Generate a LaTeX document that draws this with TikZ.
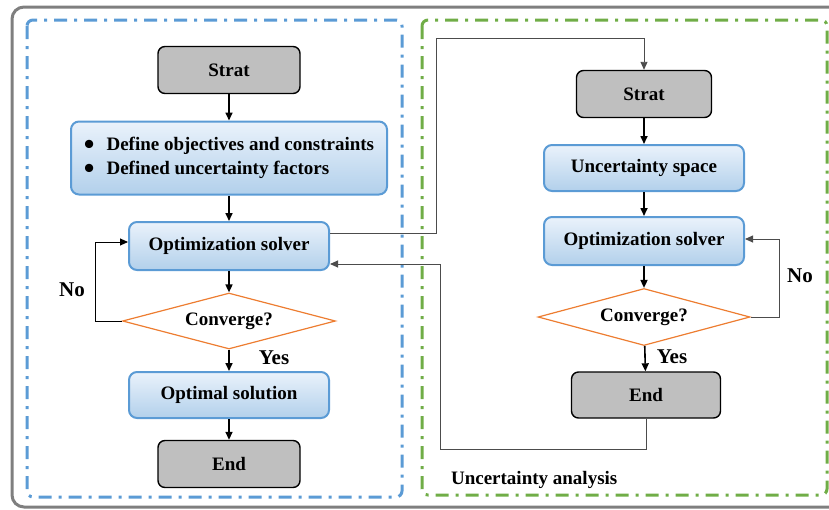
\documentclass[tikz,border=0pt]{standalone}
\usepackage{fontspec}
\setmainfont{Liberation Serif}
\usetikzlibrary{arrows.meta,positioning,shapes.geometric,calc}
\definecolor{fcblue}{HTML}{5B9BD5}
\definecolor{fcgreen}{HTML}{70AD47}
\definecolor{fcorange}{HTML}{ED7D31}
\definecolor{fcgrey}{HTML}{BFBFBF}
\definecolor{fcframe}{HTML}{7F7F7F}
\definecolor{fctop}{HTML}{EAF2FB}
\definecolor{fcbottom}{HTML}{B2D0EB}
\newcommand{\bigdot}{\raisebox{-1.9pt}{\scalebox{1.6}{\textbullet}}\hspace{6pt}}

\tikzset{
  every node/.style={font=\fontsize{9.5}{12}\selectfont\bfseries},
  termbox/.style={draw=black,fill=fcgrey,rounded corners=3.5pt,line width=0.7pt,inner sep=0pt},
  procbox/.style={draw=fcblue,top color=fctop,bottom color=fcbottom,rounded corners=4pt,line width=1pt,inner sep=0pt},
  decision/.style={diamond,draw=fcorange,line width=0.6pt,aspect=3.8,inner sep=0pt},
  flow/.style={-{Triangle[length=4pt,width=3.5pt]},line width=0.8pt},
  link/.style={-{Triangle[length=4pt,width=3.5pt]},line width=0.45pt,draw=black!70},
  tag/.style={font=\fontsize{10.5}{12}\selectfont\bfseries},
  dashdot/.style={line width=1.5pt,rounded corners=3pt,dash pattern=on 6.5pt off 3.5pt on 1.5pt off 3.5pt},
}

\begin{document}
\begin{tikzpicture}[x=0.5pt,y=-0.5pt]
\clip (0,0) rectangle (829,509);
% frames
\draw[fcframe,line width=1.5pt,rounded corners=6pt] (12,7) rectangle (845,507);
\draw[dashdot,fcblue] (27,20) rectangle (402,497);
\draw[dashdot,fcgreen] (422,20) rectangle (827,495);

% left column: optimization
\node[termbox,minimum width=71pt,minimum height=23.5pt] (s1) at (229,70) {Strat};
\node[procbox,minimum width=158pt,minimum height=36.5pt,align=left] (d1) at (229,158)
  {\bigdot Define objectives and constraints\\\bigdot Defined uncertainty factors};
\node[procbox,minimum width=100pt,minimum height=24pt] (o1) at (229,246) {Optimization solver};
\node[decision,minimum width=106.5pt,minimum height=28pt] (c1) at (229,321) {Converge?};
\node[procbox,minimum width=100pt,minimum height=23pt] (p1) at (229,395) {Optimal solution};
\node[termbox,minimum width=71pt,minimum height=23.5pt] (e1) at (229,464) {End};

% right column: uncertainty analysis
\node[termbox,minimum width=67.5pt,minimum height=23.5pt] (s2) at (644,94) {Strat};
\node[procbox,minimum width=100pt,minimum height=23pt] (u2) at (644,168) {Uncertainty space};
\node[procbox,minimum width=100pt,minimum height=24pt] (o2) at (644,241) {Optimization solver};
\node[decision,minimum width=106pt,minimum height=28.5pt] (c2) at (644,317) {Converge?};
\node[termbox,minimum width=74.5pt,minimum height=23pt] (e2) at (646,395) {End};

\node[tag] (no1) at (72,290) {No};
\node[tag] (yes1) at (274,358) {Yes};
\node[tag] (no2) at (800,276) {No};
\node[tag] (yes2) at (672,357) {Yes};
\node[anchor=west] (ua) at (444,480) {Uncertainty analysis};

\coordinate (jA) at (436,233);
\coordinate (jB) at (436,38);
\coordinate (jC) at (440,449);
\coordinate (jD) at (440,264);
\coordinate (jE) at (779,239);
\coordinate (jF) at (95,242);

% main flow
\draw[flow] (s1) -- (d1);
\draw[flow] (d1) -- (o1);
\draw[flow] (o1) -- (c1);
\draw[flow] (c1) -- (p1);
\draw[flow] (p1) -- (e1);
\draw[flow] (s2) -- (u2);
\draw[flow] (u2) -- (o2);
\draw[flow] (o2) -- (c2);
\draw[flow] (c2) -- (e2);

% loops and links
\draw[link,draw=black] (c1.west) -| (jF) -- (o1.west |- jF);
\draw[link] (c2.east) -| (jE) -- (o2.east |- jE);
\draw[link] (o1.east |- jA) -- (jA) -- (jB) -| (s2.north);
\draw[link] (e2.south) |- (jC) -- (jD) -- (o1.east |- jD);
\end{tikzpicture}
\end{document}
